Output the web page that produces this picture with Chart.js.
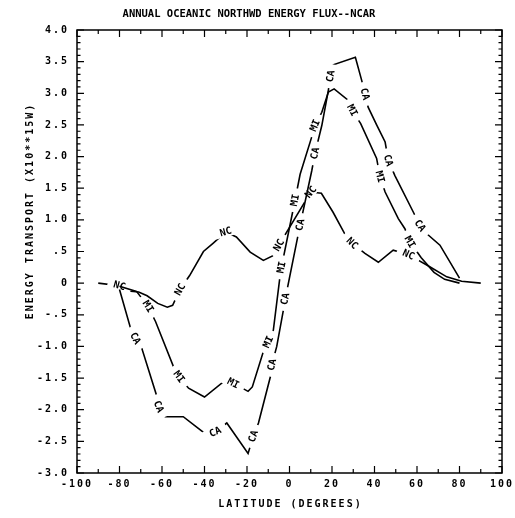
<!DOCTYPE html>
<html>
<head>
<meta charset="utf-8">
<title>Annual oceanic northward energy flux</title>
<script src="https://cdn.jsdelivr.net/npm/chart.js@4.4.1/dist/chart.umd.min.js"></script>
<style>
  html, body { margin: 0; padding: 0; background: #fff; }
  canvas { display: block; }
</style>
</head>
<body>
<canvas id="fluxChart" width="515" height="518"></canvas>
<script>
// values: latitude (deg) and transport (10**15 W)
const ncLat = [-90, -80, -77, -71, -67, -62, -57.5, -55, -51.5, -47, -40.5, -36, -30, -25, -18.5, -12.3, -8, -5, 10, 15, 20.5, 26, 29.5, 35.5, 41.8, 48.8, 56, 66, 74, 81, 90];
const ncVal = [0, -0.04, -0.12, -0.14, -0.2, -0.32, -0.38, -0.35, -0.1, 0.12, 0.5, 0.63, 0.81, 0.73, 0.49, 0.36, 0.43, 0.6, 1.44, 1.42, 1.12, 0.78, 0.63, 0.47, 0.33, 0.52, 0.45, 0.26, 0.1, 0.03, 0];
const ncTagLat = [-80, -51.5, -30, -5, 10, 29.5, 56];

const miLat = [-80, -72, -66.5, -63, -54, -52, -47.5, -40, -30, -26.5, -19.5, -17.5, -12.3, -10, -7.6, -4.5, -3.8, 2.6, 5, 11.2, 12, 15.2, 18.3, 21, 28, 29.5, 33.5, 41, 42.6, 45, 51.2, 54.3, 56.7, 62, 68, 73, 80];
const miVal = [-0.05, -0.13, -0.37, -0.61, -1.37, -1.48, -1.66, -1.8, -1.53, -1.58, -1.71, -1.64, -1.08, -0.93, -0.74, 0.1, 0.25, 1.31, 1.72, 2.39, 2.49, 2.7, 3.02, 3.07, 2.88, 2.73, 2.52, 1.97, 1.68, 1.44, 1.02, 0.86, 0.65, 0.4, 0.17, 0.06, 0];
const miTagLat = [-66.5, -52, -26.5, -10, -3.8, 2.6, 12, 29.5, 42.6, 56.7];

const caLat = [-80, -75, -72.6, -69.5, -62.4, -61.6, -58.5, -50, -40, -35, -29.5, -19.5, -17, -14.6, -9, -8.3, -6, -2.9, -2, 5, 10.5, 12, 15.2, 18.3, 19.3, 20.6, 31, 34, 35.5, 37, 41, 45, 46.5, 49.6, 58.3, 61.4, 65.3, 70.8, 80];
const caVal = [-0.1, -0.69, -0.87, -1.03, -1.79, -1.95, -2.11, -2.11, -2.37, -2.35, -2.21, -2.69, -2.42, -2.21, -1.48, -1.29, -1.0, -0.43, -0.25, 0.92, 1.78, 2.05, 2.49, 3.05, 3.27, 3.45, 3.57, 3.2, 2.99, 2.78, 2.5, 2.23, 1.94, 1.7, 1.12, 0.91, 0.76, 0.6, 0.08];
const caTagLat = [-72.6, -61.6, -35, -17, -8.3, -2, 5, 12, 19.3, 35.5, 46.5, 61.4];

const titleText = "ANNUAL OCEANIC NORTHWD ENERGY FLUX--NCAR";
const xTitle = "LATITUDE (DEGREES)";
const yTitle = "ENERGY TRANSPORT (X10**15W)";

const FONT = '"DejaVu Sans Mono", "Liberation Mono", monospace';

const toPoints = (lat, val) => lat.map((x, i) => ({ x: x, y: val[i] }));
const tagIndex = (lat, tags) => tags.map(t => lat.indexOf(t));

const makeSet = (name, lat, val, tags) => ({
  label: name,
  data: toPoints(lat, val),
  tags: tagIndex(lat, tags),
  borderColor: "#000",
  borderWidth: 1.6,
  pointRadius: 0,
  tension: 0,
  fill: false
});

// where each curve name sits, and how it turns with the line
const tagBoxes = (chart, i) => {
  const ctx = chart.ctx;
  const ds = chart.data.datasets[i];
  const pts = chart.getDatasetMeta(i).data;
  ctx.save();
  ctx.font = "bold 10px " + FONT;
  const w = ctx.measureText(ds.label).width;
  ctx.restore();
  return ds.tags.map(k => {
    const p = pts[k], a = pts[k - 1] || p, b = pts[k + 1] || p;
    return { x: p.x, y: p.y, angle: Math.atan2(b.y - a.y, b.x - a.x), hw: w / 2 + 4, hh: 5 };
  });
};

const curveTags = {
  id: "curveTags",
  beforeDatasetDraw(chart, args) {
    const ctx = chart.ctx;
    const boxes = tagBoxes(chart, args.index);
    ctx.save();
    ctx.beginPath();
    ctx.rect(0, 0, chart.width, chart.height);
    boxes.forEach(bx => {
      const c = Math.cos(bx.angle), s = Math.sin(bx.angle);
      const corner = (u, v) => [bx.x + u * c - v * s, bx.y + u * s + v * c];
      const pts = [corner(-bx.hw, -bx.hh), corner(bx.hw, -bx.hh), corner(bx.hw, bx.hh), corner(-bx.hw, bx.hh)];
      ctx.moveTo(pts[0][0], pts[0][1]);
      pts.slice(1).forEach(q => ctx.lineTo(q[0], q[1]));
      ctx.closePath();
    });
    ctx.clip("evenodd");
  },
  afterDatasetDraw(chart, args) {
    const ctx = chart.ctx;
    ctx.restore();
    const ds = chart.data.datasets[args.index];
    tagBoxes(chart, args.index).forEach(bx => {
      ctx.save();
      ctx.letterSpacing = "0px";
      ctx.translate(bx.x, bx.y);
      ctx.rotate(bx.angle);
      ctx.font = "bold 10px " + FONT;
      ctx.fillStyle = "#000";
      ctx.textAlign = "center";
      ctx.textBaseline = "middle";
      ctx.fillText(ds.label, 0, 0.5);
      ctx.restore();
    });
  }
};

// white page, wide tick lettering, frame with inward ticks, titles
const frame = {
  id: "frame",
  beforeDraw(chart) {
    const ctx = chart.ctx;
    ctx.save();
    ctx.fillStyle = "#fff";
    ctx.fillRect(0, 0, chart.width, chart.height);
    ctx.restore();
    ctx.letterSpacing = "2px";
  },
  afterDraw(chart) {
    const ctx = chart.ctx;
    const a = chart.chartArea;
    const xs = chart.scales.x, ys = chart.scales.y;
    ctx.save();
    ctx.strokeStyle = "#000";
    ctx.lineWidth = 1.5;
    ctx.strokeRect(a.left, a.top, a.right - a.left, a.bottom - a.top);
    ctx.lineWidth = 1.2;
    ctx.beginPath();
    for (let d = -100; d <= 100; d += 10) {
      const px = xs.getPixelForValue(d);
      const len = d % 20 === 0 ? 7 : 4;
      ctx.moveTo(px, a.top); ctx.lineTo(px, a.top + len);
      ctx.moveTo(px, a.bottom); ctx.lineTo(px, a.bottom - len);
    }
    for (let k = -30; k <= 40; k++) {
      const py = ys.getPixelForValue(k / 10);
      const len = k % 5 === 0 ? 7 : 3.5;
      ctx.moveTo(a.left, py); ctx.lineTo(a.left + len, py);
      ctx.moveTo(a.right, py); ctx.lineTo(a.right - len, py);
    }
    ctx.stroke();

    ctx.fillStyle = "#000";
    ctx.textAlign = "center";
    ctx.textBaseline = "middle";
    ctx.letterSpacing = "0px";
    ctx.font = "bold 10.5px " + FONT;
    ctx.fillText(titleText, 249, 14);

    ctx.letterSpacing = "2px";
    ctx.font = "bold 10px " + FONT;
    ctx.fillText(xTitle, (a.left + a.right) / 2 + 1, 504);
    ctx.translate(30, 211);
    ctx.rotate(-Math.PI / 2);
    ctx.fillText(yTitle, 0, 0);
    ctx.restore();
  }
};

const yTickText = v => {
  if (v === 0) return "0";
  return v.toFixed(1).replace(/^(-?)0\./, "$1.");
};

new Chart(document.getElementById("fluxChart"), {
  type: "line",
  data: {
    datasets: [
      makeSet("NC", ncLat, ncVal, ncTagLat),
      makeSet("MI", miLat, miVal, miTagLat),
      makeSet("CA", caLat, caVal, caTagLat)
    ]
  },
  options: {
    responsive: false,
    animation: false,
    devicePixelRatio: 1,
    layout: { padding: { top: 30, right: 13, bottom: 0, left: 0 } },
    plugins: {
      legend: { display: false },
      title: { display: false },
      tooltip: { enabled: false }
    },
    scales: {
      x: {
        type: "linear",
        min: -100,
        max: 100,
        grid: { display: false, drawTicks: false },
        border: { display: false },
        ticks: {
          stepSize: 20,
          autoSkip: false,
          maxRotation: 0,
          padding: 5,
          color: "#000",
          font: { family: FONT, size: 10, weight: "bold" },
          callback: v => String(v)
        },
        afterFit(scale) {
          scale.height = 45;
          scale.paddingLeft = 0;
          scale.paddingRight = 0;
        }
      },
      y: {
        type: "linear",
        min: -3,
        max: 4,
        grid: { display: false, drawTicks: false },
        border: { display: false },
        ticks: {
          stepSize: 0.5,
          autoSkip: false,
          padding: 8,
          color: "#000",
          font: { family: FONT, size: 10, weight: "bold" },
          callback: yTickText
        },
        afterFit(scale) {
          scale.width = 77;
          scale.paddingTop = 0;
          scale.paddingBottom = 0;
        }
      }
    }
  },
  plugins: [curveTags, frame]
});
</script>
</body>
</html>
